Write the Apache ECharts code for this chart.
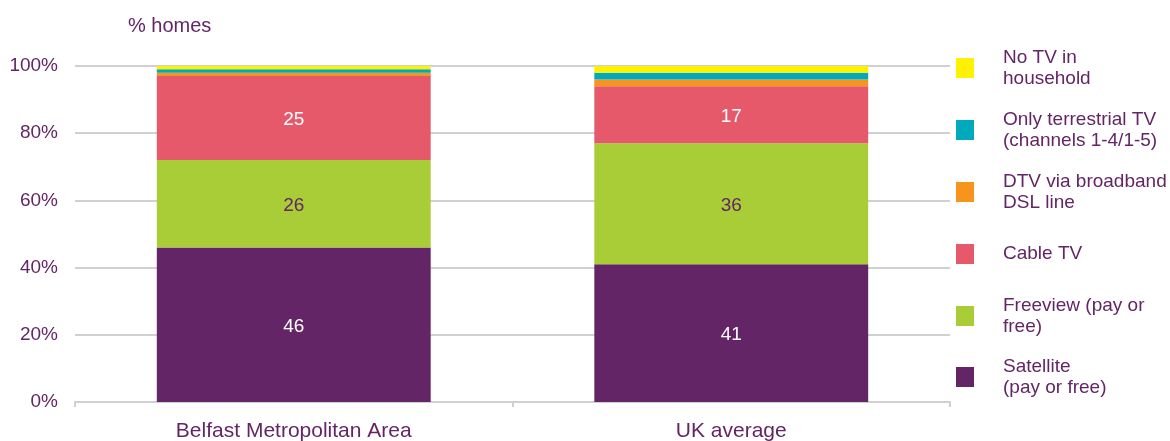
<!DOCTYPE html>
<html>
<head>
<meta charset="utf-8">
<script src="https://cdn.jsdelivr.net/npm/echarts@6/dist/echarts.min.js"></script>
<style>
  html, body { margin: 0; padding: 0; background: #fff; }
  #chart { width: 1170px; height: 441px; }
</style>
</head>
<body>
<div id="chart"></div>
<script>
const categories = ["Belfast Metropolitan Area", "UK average"];
const satellite = [46, 41];
const freeview = [26, 36];
const cable = [25, 17];
const dtvBroadband = [1, 2];
const terrestrialOnly = [1, 2];
const noTv = [1, 2];
const yTicks = [0, 20, 40, 60, 80, 100];

const purple = "#632565";
const font = "Liberation Sans, Arial, sans-serif";

const seriesDefs = [
  { name: "Satellite\n(pay or free)", data: satellite, color: "#632565", label: "#ffffff" },
  { name: "Freeview (pay or\nfree)", data: freeview, color: "#a9cd37", label: purple },
  { name: "Cable TV", data: cable, color: "#e5596a", label: "#ffffff" },
  { name: "DTV via broadband\nDSL line", data: dtvBroadband, color: "#f7941d" },
  { name: "Only terrestrial TV\n(channels 1-4/1-5)", data: terrestrialOnly, color: "#00a9bc" },
  { name: "No TV in\nhousehold", data: noTv, color: "#fff200" }
];

// legend rows from top to bottom, centred on these y positions
const legendCentres = { "No TV in\nhousehold": 68, "Only terrestrial TV\n(channels 1-4/1-5)": 130,
  "DTV via broadband\nDSL line": 192, "Cable TV": 254, "Freeview (pay or\nfree)": 316, "Satellite\n(pay or free)": 377 };
const legendLine = 21;

const chart = echarts.init(document.getElementById("chart"));
chart.setOption({
  animation: false,
  textStyle: { fontFamily: font },
  title: {
    text: "% homes",
    left: 123, top: 11,
    textStyle: { color: purple, fontSize: 20, fontWeight: "normal", fontFamily: font }
  },
  legend: Object.keys(legendCentres).map((name) => {
    const h = name.split("\n").length * legendLine;
    return {
      data: [name],
      left: 956,
      top: legendCentres[name] - h / 2,
      padding: 0,
      itemWidth: 18,
      itemHeight: 20,
      itemGap: 0,
      icon: "rect",
      selectedMode: false,
      textStyle: { color: purple, fontSize: 19, lineHeight: legendLine, fontFamily: font, padding: [0, 0, 0, 24] }
    };
  }),
  grid: { left: 75, right: 220, top: 66, bottom: 39, outerBoundsMode: "none" },
  xAxis: {
    type: "category",
    data: categories,
    axisLine: { lineStyle: { color: "#d0d0d0", width: 2 } },
    axisTick: { show: true, length: 5, lineStyle: { color: "#d0d0d0", width: 2 } },
    axisLabel: { color: purple, fontSize: 21, margin: 19, fontFamily: font }
  },
  yAxis: {
    type: "value",
    min: 0, max: 100, interval: 20,
    axisLine: { show: false },
    axisTick: { show: false },
    splitLine: { lineStyle: { color: "#d0d0d0", width: 2 } },
    axisLabel: {
      color: purple, fontSize: 19, margin: 17, fontFamily: font,
      formatter: (v) => (yTicks.includes(v) ? v + "%" : "")
    }
  },
  series: seriesDefs.map((s) => ({
    name: s.name,
    type: "bar",
    stack: "total",
    barWidth: "62.6%",
    data: s.data,
    itemStyle: { color: s.color },
    label: s.label
      ? { show: true, position: "inside", offset: [0, 2], color: s.label, fontSize: 19, fontFamily: font }
      : { show: false }
  }))
});
</script>
</body>
</html>
